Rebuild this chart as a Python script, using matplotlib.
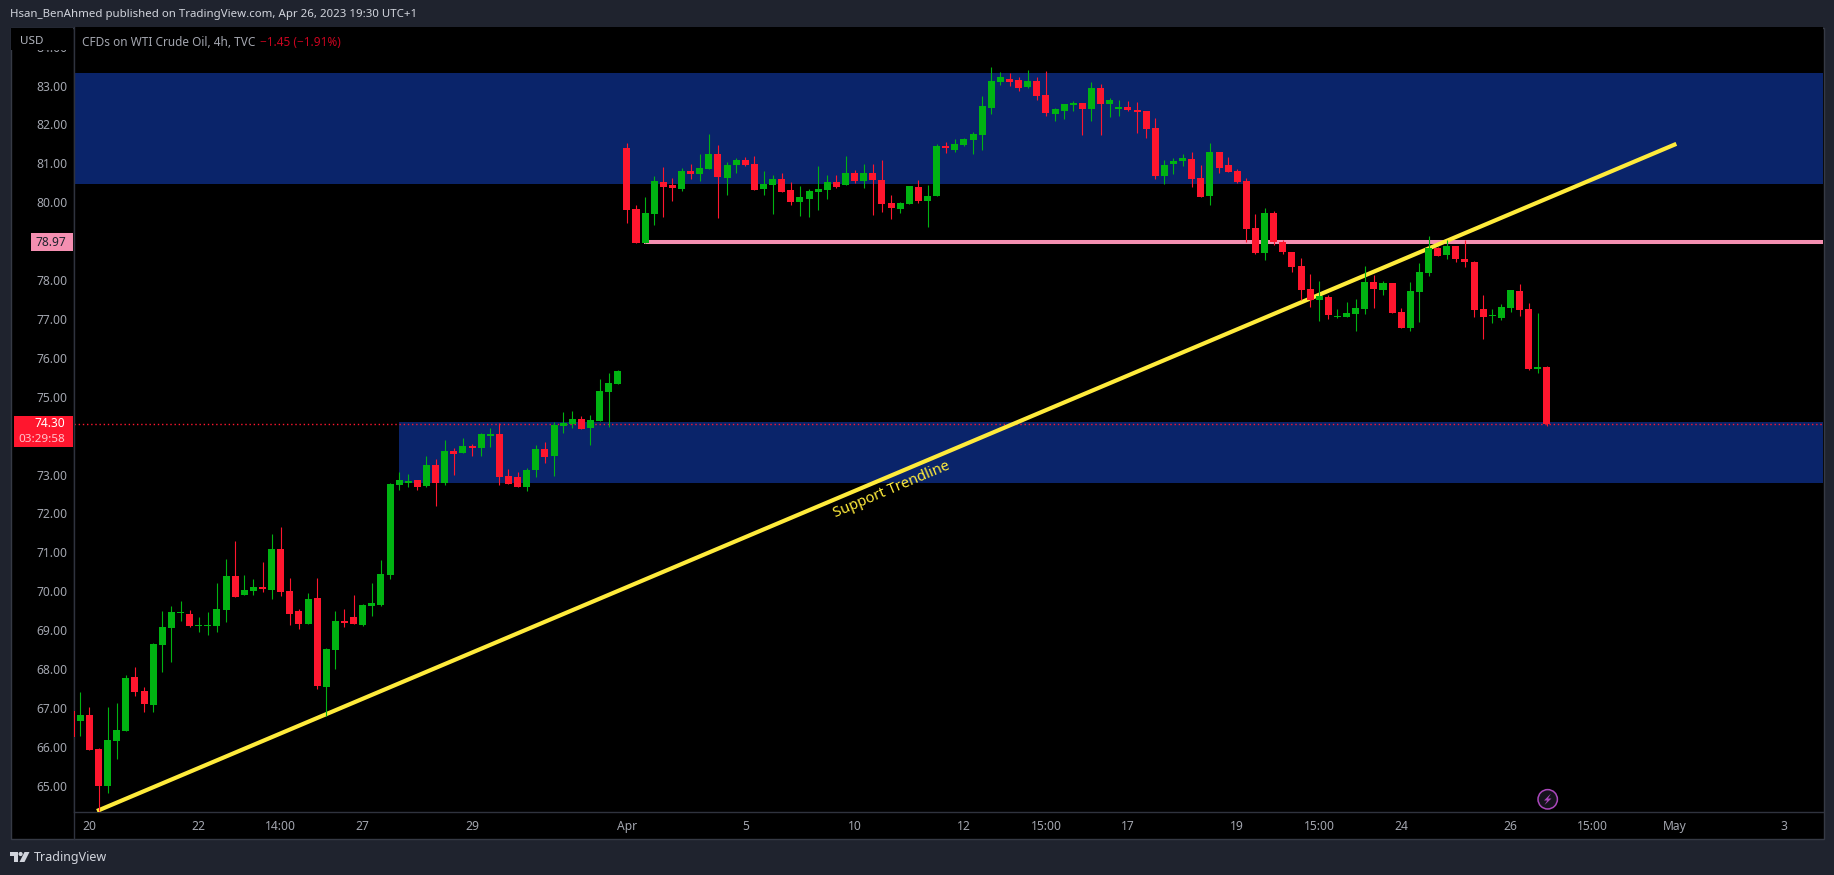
# WTI crude 4h candles, TradingView dark layout
import numpy as np
import matplotlib
matplotlib.use("Agg")
import matplotlib.pyplot as plt
from matplotlib.patches import Rectangle, Circle, Polygon

opens = [66.92, 66.66, 66.82, 65.94, 64.99, 66.15, 66.41, 67.80, 67.44, 67.08,
         68.62, 69.06, 69.44, 69.42, 69.11, 69.11, 69.11, 69.52, 70.39, 69.90,
         70.01, 70.11, 70.03, 71.09, 70.01, 69.49, 69.16, 69.83, 67.54, 68.49,
         69.24, 69.34, 69.13, 69.62, 69.65, 70.42, 72.73, 72.78, 72.86, 72.70,
         73.24, 72.78, 73.60, 73.55, 73.73, 73.68, 73.99, 74.04, 72.96, 72.94,
         72.68, 73.12, 73.66, 73.48, 74.25, 74.30, 74.43, 74.20, 74.38, 75.12,
         75.33, 81.39, 79.83, 78.95, 79.70, 80.52, 80.44, 80.34, 80.80, 80.73,
         80.85, 81.24, 80.62, 80.96, 81.08, 80.98, 80.34, 80.44, 80.60, 80.31,
         80.00, 80.08, 80.26, 80.31, 80.52, 80.44, 80.75, 80.55, 80.75, 80.57,
         79.98, 79.83, 79.95, 80.39, 80.03, 80.16, 81.44, 81.34, 81.47, 81.60,
         81.73, 82.42, 83.09, 83.17, 83.14, 82.96, 83.12, 82.76, 82.27, 82.35,
         82.50, 82.55, 82.40, 82.94, 82.53, 82.40, 82.45, 82.37, 82.35, 81.91,
         80.67, 80.98, 81.06, 81.11, 80.62, 80.16, 81.29, 80.96, 80.80, 80.55,
         79.34, 78.69, 79.72, 78.98, 78.72, 78.36, 77.77, 77.49, 77.56, 77.05,
         77.05, 77.13, 77.25, 77.95, 77.74, 77.92, 77.18, 76.77, 77.69, 78.18,
         78.82, 78.64, 78.87, 78.54, 78.46, 77.25, 77.07, 77.02, 77.28, 77.72,
         77.26, 75.71, 75.76]
highs = [66.92, 67.41, 67.02, 65.97, 67.02, 67.13, 67.85, 68.05, 67.54, 68.67,
         69.49, 69.62, 69.75, 69.52, 69.34, 69.47, 70.21, 70.83, 71.29, 70.42,
         70.31, 70.75, 71.47, 71.65, 70.34, 69.54, 69.96, 70.34, 68.54, 69.49,
         69.54, 69.90, 69.67, 70.21, 70.80, 72.78, 73.06, 73.01, 72.86, 73.48,
         73.40, 73.89, 73.68, 73.94, 73.78, 74.07, 74.20, 74.32, 73.14, 73.06,
         73.17, 73.76, 73.84, 74.35, 74.61, 74.63, 74.50, 74.53, 75.46, 75.61,
         75.69, 81.52, 79.93, 80.13, 80.67, 80.91, 80.62, 80.88, 80.98, 81.24,
         81.75, 81.47, 81.03, 81.14, 81.16, 81.19, 80.80, 80.70, 80.75, 80.52,
         80.42, 80.34, 80.93, 80.70, 80.70, 81.19, 80.83, 80.98, 80.98, 81.08,
         80.18, 80.00, 80.42, 80.57, 80.44, 81.50, 81.55, 81.63, 81.65, 81.81,
         82.73, 83.48, 83.35, 83.32, 83.22, 83.40, 83.22, 83.37, 82.42, 82.53,
         82.60, 82.55, 83.09, 83.04, 82.68, 82.63, 82.60, 82.58, 82.35, 82.16,
         81.09, 81.14, 81.24, 81.29, 80.96, 81.52, 81.29, 81.16, 80.85, 80.62,
         79.70, 79.85, 79.77, 79.03, 78.72, 78.57, 78.15, 77.97, 77.61, 77.25,
         77.43, 77.51, 78.36, 78.13, 77.97, 77.92, 77.28, 77.95, 78.44, 79.13,
         78.85, 79.03, 78.87, 79.03, 78.49, 77.61, 77.25, 77.38, 77.74, 77.90,
         77.41, 77.15, 75.79]
lows = [66.24, 66.28, 65.92, 64.35, 64.81, 65.69, 66.41, 67.31, 66.90, 66.90,
        67.92, 68.18, 69.24, 69.08, 68.95, 68.88, 68.95, 69.21, 69.85, 69.90,
        69.90, 69.98, 69.80, 69.88, 69.13, 69.03, 69.16, 67.49, 66.79, 68.00,
        69.08, 69.16, 69.11, 69.36, 69.62, 70.31, 72.60, 72.68, 72.60, 72.68,
        72.19, 72.73, 72.99, 73.55, 73.48, 73.48, 73.71, 72.73, 72.76, 72.68,
        72.58, 72.94, 73.30, 72.96, 74.07, 74.20, 74.17, 73.76, 74.38, 74.22,
        75.33, 79.47, 78.95, 78.95, 79.41, 79.62, 80.03, 80.29, 80.60, 80.55,
        80.85, 79.59, 80.18, 80.75, 80.93, 80.31, 80.18, 79.70, 80.26, 79.93,
        79.65, 79.62, 79.80, 80.08, 80.37, 80.44, 80.49, 80.37, 79.67, 79.75,
        79.57, 79.72, 79.95, 79.98, 79.36, 80.16, 81.26, 81.29, 81.44, 81.24,
        81.34, 82.27, 83.01, 82.99, 82.86, 82.94, 82.63, 82.22, 82.09, 82.14,
        82.35, 81.73, 82.09, 81.73, 82.19, 82.22, 82.35, 81.78, 81.65, 80.60,
        80.47, 80.73, 80.93, 80.39, 80.13, 79.93, 80.75, 80.78, 80.49, 78.98,
        78.67, 78.51, 78.90, 78.67, 78.21, 77.49, 77.31, 76.95, 77.00, 77.02,
        77.05, 76.69, 77.13, 77.28, 77.61, 77.15, 76.77, 76.69, 76.92, 78.10,
        78.62, 78.54, 78.46, 78.33, 77.05, 76.48, 76.90, 76.97, 77.18, 77.07,
        75.69, 75.61, 74.25]
closes = [66.24, 66.82, 65.92, 64.99, 66.18, 66.43, 67.77, 67.41, 67.10, 68.64,
          69.08, 69.47, 69.47, 69.11, 69.13, 69.13, 69.54, 70.39, 69.85, 70.03,
          70.11, 70.06, 71.09, 69.98, 69.42, 69.16, 69.80, 67.56, 68.52, 69.24,
          69.18, 69.16, 69.65, 69.70, 70.44, 72.76, 72.86, 72.83, 72.68, 73.24,
          72.78, 73.60, 73.53, 73.73, 73.68, 74.04, 74.04, 72.94, 72.76, 72.68,
          73.12, 73.66, 73.45, 74.27, 74.32, 74.43, 74.17, 74.40, 75.15, 75.35,
          75.66, 79.80, 78.95, 79.72, 80.55, 80.39, 80.37, 80.80, 80.73, 80.88,
          81.24, 80.65, 80.96, 81.08, 80.96, 80.31, 80.47, 80.60, 80.26, 80.00,
          80.13, 80.29, 80.34, 80.52, 80.39, 80.75, 80.55, 80.75, 80.57, 79.95,
          79.85, 79.98, 80.42, 80.03, 80.16, 81.44, 81.39, 81.50, 81.63, 81.75,
          82.47, 83.12, 83.22, 83.09, 82.94, 83.12, 82.73, 82.29, 82.40, 82.53,
          82.55, 82.40, 82.94, 82.53, 82.63, 82.45, 82.37, 82.32, 81.88, 80.67,
          80.96, 81.06, 81.14, 80.60, 80.13, 81.29, 80.88, 80.78, 80.52, 79.31,
          78.69, 79.72, 78.98, 78.72, 78.33, 77.74, 77.49, 77.59, 77.10, 77.07,
          77.15, 77.28, 77.95, 77.77, 77.92, 77.15, 76.77, 77.72, 78.21, 78.82,
          78.62, 78.87, 78.54, 78.46, 77.23, 77.05, 77.10, 77.31, 77.74, 77.23,
          75.71, 75.76, 74.30]

# 74 and 79 sit under the price tags in the original, so they are left out
price_ticks = [65, 66, 67, 68, 69, 70, 71, 72, 73, 75, 76, 77, 78, 80, 81, 82, 83, 84]
time_ticks = [2, 14, 23, 32, 44, 61, 74, 86, 98, 107, 116, 128, 137, 146, 158, 167, 176, 188]
time_labels = ["20", "22", "14:00", "27", "29", "Apr", "5", "10", "12", "15:00",
               "17", "19", "15:00", "24", "26", "15:00", "May", "3"]

top_zone = (80.47, 83.33)
low_zone = (72.78, 74.35)
low_zone_start = 36
resistance = 78.97
resistance_start = 62.9
trend_x = [2.83, 176.2]
trend_y = [64.35, 81.50]
last_price = 74.30

W, H = 1834, 875
PAGE = "#1f232e"
BORDER = "#2f333e"
NAVY = "#0a246a"
GREEN = "#00b312"
RED = "#ff162e"
YELLOW = "#ffeb3b"
PINK = "#f48fb1"
FONT = "Noto Sans"

plt.rcParams["font.family"] = FONT

fig = plt.figure(figsize=(W / 100, H / 100), dpi=100, facecolor=PAGE)


def pixel_axes(z):
    a = fig.add_axes([0, 0, 1, 1], zorder=z)
    a.set_xlim(0, W)
    a.set_ylim(H, 0)
    a.axis("off")
    a.patch.set_alpha(0)
    return a


back = pixel_axes(0)
back.add_patch(Rectangle((10.5, 27.5), 1813, 811, fc="black", ec="#363a45", lw=1.0))
back.plot([73.5, 73.5], [27.5, 838.5], color=BORDER, lw=1.0)

ax = fig.add_axes([74 / W, (H - 812) / H, 1749 / W, 785 / H], zorder=1, facecolor="black")
ax.set_xlim(0.307, 192.3)
ax.set_ylim(64.324, 84.504)

# zones and drawings
ax.axhspan(top_zone[0], top_zone[1], color=NAVY, lw=0, zorder=1)
ax.fill_between([low_zone_start, 192.3], low_zone[0], low_zone[1], color=NAVY, lw=0, zorder=1)
ax.plot([resistance_start, 192.3], [resistance, resistance], color=PINK, lw=2.9, zorder=2,
        solid_capstyle="butt")
ax.plot([0.307, 192.3], [last_price, last_price], color=RED, lw=1.0, ls=(0, (1, 2)), zorder=2)
ax.plot(trend_x, trend_y, color=YELLOW, lw=3.0, zorder=3, solid_capstyle="butt")
ax.text(90.1, 72.6, "Support Trendline", color=YELLOW, fontsize=10.6, rotation=22.9,
        rotation_mode="anchor", ha="center", va="center", zorder=3)

# candles
x = np.arange(len(opens))
o = np.array(opens)
h = np.array(highs)
l = np.array(lows)
c = np.array(closes)
colors = [GREEN if b >= a else RED for a, b in zip(o, c)]
ax.vlines(x, l, h, colors=colors, lw=0.8, zorder=4)
ax.bar(x, np.abs(c - o), bottom=np.minimum(o, c), width=0.77, color=colors, lw=0,
       zorder=5, antialiased=False)

ax.set_yticks(price_ticks)
ax.set_yticklabels([f"{p:.2f}" for p in price_ticks])
ax.set_xticks(time_ticks)
ax.set_xticklabels(time_labels)
ax.tick_params(axis="y", length=0, pad=4.6, labelsize=8.7, labelcolor="#a3a6af")
ax.tick_params(axis="x", length=0, pad=5.5, labelsize=8.7, labelcolor="#a3a6af")
for lab in ax.get_xticklabels():
    if lab.get_text() in ("Apr", "May"):
        lab.set_fontweight("bold")
for s in ("top", "right"):
    ax.spines[s].set_visible(False)
for s in ("left", "bottom"):
    ax.spines[s].set_color(BORDER)
    ax.spines[s].set_linewidth(1.0)

top = pixel_axes(2)
# header strip in the price scale hides the clipped 84.00 label
top.add_patch(Rectangle((11, 28), 62, 21.5, fc="black", lw=0))
top.text(10, 15, "Hsan_BenAhmed published on TradingView.com, Apr 26, 2023 19:30 UTC+1",
         color="#d1d4dc", fontsize=8.25, va="center")
top.text(20, 41, "USD", color="#b2b5be", fontsize=8.4, va="center")
top.text(82, 42, "CFDs on WTI Crude Oil, 4h, TVC", color="#a3a6af", fontsize=8.5, va="center")
top.text(260, 42, "\u22121.45 (\u22121.91%)", color="#c9041f", fontsize=8.5, va="center")

# price tags
top.add_patch(Rectangle((31, 233), 42, 18, fc=PINK, lw=0))
top.text(66, 242, "78.97", color="#1f232e", fontsize=8.6, ha="right", va="center")
top.add_patch(Rectangle((14, 416), 59, 31, fc=RED, lw=0))
top.text(65, 423.5, "74.30", color="white", fontsize=8.6, fontweight="bold", ha="right", va="center")
top.text(65, 439, "03:29:58", color="#ffc4cc", fontsize=8.4, ha="right", va="center")

# lightning marker
top.add_patch(Circle((1547.7, 799.3), 9.7, fc="#15131c", ec="#ab47bc", lw=1.1))
top.add_patch(Polygon([(1551, 793.5), (1544, 800.5), (1547.3, 800.5), (1544.5, 805),
                       (1551.5, 798.5), (1548, 798.5)], fc="#ab47bc", lw=0))

# logo
logo = "#d1d4dc"
top.add_patch(Polygon([(10, 852), (18, 852), (18, 862), (14, 862), (14, 856), (10, 856)], fc=logo, lw=0))
top.add_patch(Circle((20.6, 854), 2.1, fc=logo, lw=0))
top.add_patch(Polygon([(24.5, 852), (29.5, 852), (24.5, 862), (19.5, 862)], fc=logo, lw=0))
top.text(33.5, 857.5, "TradingView", color=logo, fontsize=9.0, va="center")

fig.savefig("out.png", dpi=100, facecolor=PAGE)
